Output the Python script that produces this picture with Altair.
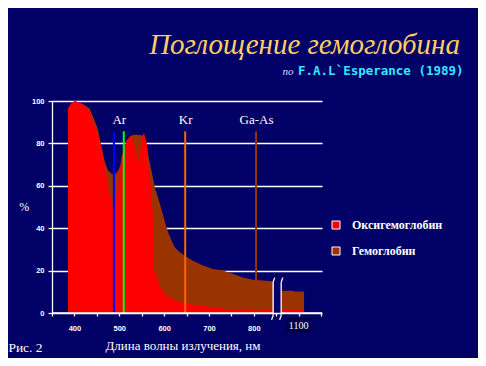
import altair as alt
import pandas as pd

# ---- data ----
oxy_wl = [386, 388, 393, 401, 412, 423, 434, 445, 453, 460, 468, 475, 483, 487, 489, 491, 498, 505, 510, 516,
          524, 531, 538, 544, 550, 555, 561, 566, 572, 575, 577, 583, 590, 597, 605, 616, 627, 646, 672, 702,
          739, 780, 845]
oxy_val = [96.4, 97.5, 98.8, 100, 99, 98, 94.8, 88.5, 83.8, 77.5, 68.8, 60.2, 53, 47.5, 46, 50.7, 61.7, 73.5, 77.5, 81.4,
           83.3, 82.2, 75, 70.4, 83, 84.9, 80.6, 66.5, 57, 45, 21, 17.6, 12.9, 10.5, 8.5, 7.1, 5.8, 4.6, 3.8, 3.0,
           1.9, 1.6, 1.5]
hb_wl = [386, 393, 401, 412, 423, 434, 445, 453, 460, 468, 475, 483, 490, 497, 503, 510, 516, 524, 531, 538,
         544, 550, 555, 561, 566, 572, 580, 587, 594, 601, 609, 617, 624, 635, 646, 664, 687, 709, 731, 754,
         776, 798, 821, 845]
hb_val = [96.4, 98.8, 100, 99, 98, 96.5, 90.9, 86.2, 79, 71.2, 67.2, 65.7, 65.5, 67, 70, 74, 79, 83.5, 84, 84.2,
          84, 83.8, 83, 80, 73, 67, 58.6, 54, 49, 43.6, 38, 34, 31, 28.6, 27.1, 24.7, 22.4, 20.8, 20, 18.4,
          16.8, 15.7, 15.3, 14.9]
# segment after the axis break (around 1100 nm), drawn at axis positions 862..912
tail_pos = [862, 889, 889, 912]
tail_hb = [10.5, 10.5, 10.1, 10.1]
tail_oxy = [1.8, 1.8, 1.8, 1.8]

series_names = ["Оксигемоглобин", "Гемоглобин"]
series_colors = ["#FF0000", "#993300"]

laser_wl = [488, 510, 647, 805]
laser_bottom = [0, 0, 0, 0]
laser_top = [85.7, 85.7, 85.7, 85.7]
laser_colors = ["#0000FF", "#00FF00", "#FF6600", "#993300"]
laser_names = ["Ar", "Kr", "Ga-As"]
laser_label_wl = [500, 648, 806]
laser_label_y = [91, 91, 91]

x_ticks = [350, 400, 450, 500, 550, 600, 650, 700, 750, 800, 850, 900, 950]
x_labeled = [400, 500, 600, 700, 800]
y_ticks = [0, 20, 40, 60, 80, 100]

NAVY = "#000066"
W, H = 270, 212

# ---- tables ----
rows = []
for w, v in zip(hb_wl, hb_val):
    rows.append({"s": series_names[1], "wl": w, "v": v, "seg": "a"})
for w, v in zip(tail_pos, tail_hb):
    rows.append({"s": series_names[1], "wl": w, "v": v, "seg": "b"})
for w, v in zip(oxy_wl, oxy_val):
    rows.append({"s": series_names[0], "wl": w, "v": v, "seg": "a"})
for w, v in zip(tail_pos, tail_oxy):
    rows.append({"s": series_names[0], "wl": w, "v": v, "seg": "b"})
spec = pd.DataFrame(rows)
lasers = pd.DataFrame({"wl": laser_wl, "bot": laser_bottom, "top": laser_top, "col": laser_colors})
laser_lbl = pd.DataFrame({"wl": laser_label_wl, "y": laser_label_y, "t": laser_names})

xscale = alt.Scale(domain=[350, 952], nice=False, zero=False)
yscale = alt.Scale(domain=[0, 100], nice=False, zero=True)

lab_list = ",".join(str(v) for v in x_labeled)
x_axis = alt.Axis(values=x_ticks, grid=False, domain=False, tickColor="white", tickSize=3, tickWidth=1.3,
                  labelColor="white", labelFont="Liberation Sans", labelFontWeight="bold", labelFontSize=7.5,
                  labelPadding=8, labelOverlap=False, labelFlush=False,
                  labelExpr="indexof([" + lab_list + "], datum.value) >= 0 ? datum.label : ''",
                  title=None, zindex=1)
y_axis = alt.Axis(values=y_ticks, grid=True, gridColor="white", gridWidth=1.3, gridOpacity=1,
                  domainColor="white", domainWidth=1.3, tickColor="white", tickSize=4, tickWidth=1.3,
                  labelColor="white", labelFont="Liberation Sans", labelFontWeight="bold", labelFontSize=7.5,
                  labelPadding=4, title=None)

fill_scale = alt.Scale(domain=series_names, range=series_colors)
legend = alt.Legend(orient="none", legendX=278, legendY=118, title=None, symbolType="square",
                    symbolSize=64, symbolStrokeColor="white", symbolStrokeWidth=1, symbolOpacity=1,
                    labelColor="white", labelFont="Liberation Serif", labelFontWeight="bold",
                    labelFontSize=12, labelOffset=10, rowPadding=14, padding=0)

X = lambda f: alt.X(f, scale=xscale, axis=x_axis)
Y = lambda f: alt.Y(f, scale=yscale, axis=y_axis)

base = alt.Chart(spec)
brown = base.transform_filter(alt.datum.s == series_names[1]).mark_area(opacity=1).encode(
    x=X("wl:Q"),
    y=alt.Y("v:Q", scale=yscale, axis=y_axis, stack=None),
    detail="seg:N",
    fill=alt.Fill("s:N", scale=fill_scale, legend=legend),
)
red = base.transform_filter(alt.datum.s == series_names[0]).mark_area(opacity=1).encode(
    x=X("wl:Q"),
    y=alt.Y("v:Q", scale=yscale, axis=y_axis, stack=None),
    detail="seg:N",
    fill=alt.Fill("s:N", scale=fill_scale, legend=legend),
)

laser_rules = alt.Chart(lasers).mark_rule(strokeWidth=2).encode(
    x=X("wl:Q"), y=Y("bot:Q"), y2="top:Q", stroke=alt.Stroke("col:N", scale=None))
laser_text = alt.Chart(laser_lbl).mark_text(color="white", font="Liberation Serif", fontSize=13,
                                             baseline="middle").encode(x=X("wl:Q"), y=Y("y:Q"), text="t:N")

# x baseline with the break
base_line = alt.Chart(pd.DataFrame({"a": [350, 861], "b": [843, 952], "z": [0, 0]})).mark_rule(
    color="white", strokeWidth=1.3).encode(x=X("a:Q"), x2="b:Q", y=Y("z:Q"))
brk = pd.DataFrame({"x1": [843, 843, 843, 861, 861, 861],
                    "x2": [843, 846.5, 839.5, 861, 864.5, 857.5],
                    "y1": [-1.3, 14.5, -1.3, -1.3, 14.5, -1.3],
                    "y2": [14.5, 16.7, -3.2, 14.5, 16.7, -3.2]})
break_marks = alt.Chart(brk).mark_rule(color="white", strokeWidth=1.3).encode(
    x=X("x1:Q"), x2="x2:Q", y=Y("y1:Q"), y2="y2:Q")

def txt(t, x, y, **kw):
    return alt.Chart(pd.DataFrame({"t": [t]})).mark_text(**kw).encode(
        x=alt.value(x), y=alt.value(y), text="t:N")

box1100 = alt.Chart(pd.DataFrame({"a": [871], "b": [928]})).mark_rect(color="#00004A").encode(
    x=X("a:Q"), x2="b:Q", y=alt.value(217), y2=alt.value(232))
lbl1100 = alt.Chart(pd.DataFrame({"p": [900], "t": ["1100"]})).mark_text(
    color="white", font="Liberation Serif", fontSize=10, baseline="alphabetic").encode(
    x=X("p:Q"), y=alt.value(227.5), text="t:N")

title = txt("Поглощение гемоглобина", 408, -47.5, color="#FFCC66", font="Liberation Serif",
            fontStyle="italic", fontSize=29, align="right", baseline="alphabetic")
sub_po = txt("по", 241.5, -25.7, color="#DDDDFF", font="Liberation Serif", fontStyle="italic",
             fontSize=11, align="right", baseline="alphabetic")
sub = txt("F.A.L`Esperance (1989)", 246, -25.7, color="#33E8FF", font="DejaVu Sans Mono",
          fontWeight="bold", fontSize=12.5, align="left", baseline="alphabetic")
pct = txt("%", -27.8, 105.5, color="white", font="Liberation Serif", fontSize=12, baseline="middle")
xtitle = txt("Длина волны излучения, нм", 131, 248.6, color="white", font="Liberation Serif",
             fontSize=13, baseline="alphabetic")
fig = txt("Рис. 2", -26.5, 251, color="white", font="Liberation Serif", fontSize=13.5,
          baseline="alphabetic")

chart = alt.layer(
    brown, red, laser_rules, base_line, break_marks, laser_text, box1100, lbl1100,
    title, sub_po, sub, pct, xtitle, fig
).properties(
    width=W, height=H, background=NAVY,
    autosize=alt.AutoSizeParams(type="none"),
    padding={"left": 44, "top": 93, "right": 156, "bottom": 45},
).configure_view(stroke=None)

chart.save("out.html", embed_options={"renderer": "svg", "actions": False})
